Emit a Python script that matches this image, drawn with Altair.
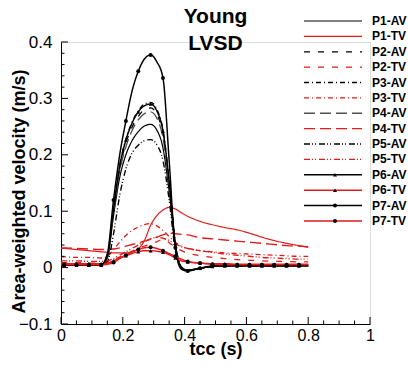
import altair as alt
import pandas as pd

# time grid (s)
T = [0.00, 0.01, 0.05, 0.09, 0.13, 0.15, 0.17, 0.19, 0.21, 0.23, 0.25, 0.27, 0.29, 0.31,
     0.33, 0.35, 0.37, 0.39, 0.41, 0.45, 0.49, 0.53, 0.57, 0.61, 0.65, 0.69, 0.73, 0.77, 0.80]

P1_AV = [0.004, 0.004, 0.004, 0.004, 0.004, 0.017, 0.092, 0.160, 0.200, 0.225, 0.241, 0.251, 0.254, 0.244,
         0.212, 0.135, 0.037, 0.000, -0.004, -0.001, 0.002, 0.003, 0.003, 0.003, 0.003, 0.003, 0.003, 0.003, 0.003]
P1_TV = [0.034, 0.034, 0.032, 0.030, 0.028, 0.027, 0.026, 0.026, 0.026, 0.028, 0.033, 0.048, 0.075, 0.092,
         0.102, 0.107, 0.104, 0.097, 0.091, 0.082, 0.076, 0.071, 0.067, 0.061, 0.054, 0.048, 0.043, 0.039, 0.036]
P2_AV = [0.004, 0.004, 0.004, 0.004, 0.004, 0.019, 0.100, 0.176, 0.220, 0.249, 0.268, 0.280, 0.283, 0.272,
         0.236, 0.150, 0.042, 0.000, -0.005, -0.001, 0.002, 0.003, 0.003, 0.003, 0.003, 0.003, 0.003, 0.003, 0.003]
P2_TV = [0.009, 0.009, 0.009, 0.008, 0.008, 0.010, 0.014, 0.019, 0.024, 0.029, 0.034, 0.038, 0.042, 0.046,
         0.050, 0.044, 0.036, 0.030, 0.026, 0.021, 0.018, 0.016, 0.014, 0.013, 0.012, 0.011, 0.011, 0.010, 0.010]
P3_AV = [0.004, 0.004, 0.004, 0.004, 0.004, 0.020, 0.104, 0.182, 0.228, 0.258, 0.278, 0.290, 0.293, 0.281,
         0.245, 0.155, 0.045, 0.001, -0.004, -0.001, 0.002, 0.003, 0.003, 0.003, 0.003, 0.003, 0.003, 0.003, 0.003]
P3_TV = [0.019, 0.019, 0.018, 0.018, 0.017, 0.020, 0.032, 0.045, 0.057, 0.066, 0.072, 0.076, 0.078, 0.074,
         0.066, 0.055, 0.045, 0.038, 0.034, 0.030, 0.028, 0.026, 0.025, 0.024, 0.023, 0.022, 0.021, 0.020, 0.020]
P4_AV = [0.004, 0.004, 0.004, 0.004, 0.004, 0.018, 0.098, 0.171, 0.214, 0.243, 0.262, 0.273, 0.276, 0.265,
         0.230, 0.146, 0.040, 0.000, -0.005, -0.001, 0.002, 0.003, 0.003, 0.003, 0.003, 0.003, 0.003, 0.003, 0.003]
P4_TV = [0.035, 0.035, 0.034, 0.033, 0.032, 0.032, 0.033, 0.035, 0.038, 0.041, 0.044, 0.047, 0.050, 0.054,
         0.058, 0.061, 0.060, 0.059, 0.058, 0.053, 0.051, 0.049, 0.047, 0.045, 0.043, 0.041, 0.039, 0.038, 0.037]
P5_AV = [0.004, 0.004, 0.004, 0.004, 0.004, 0.010, 0.060, 0.128, 0.175, 0.203, 0.217, 0.225, 0.227, 0.218,
         0.190, 0.120, 0.030, -0.002, -0.005, -0.001, 0.002, 0.003, 0.003, 0.003, 0.003, 0.003, 0.003, 0.003, 0.003]
P5_TV = [0.012, 0.012, 0.012, 0.011, 0.011, 0.012, 0.016, 0.022, 0.028, 0.034, 0.040, 0.046, 0.051, 0.054,
         0.052, 0.048, 0.042, 0.037, 0.034, 0.030, 0.027, 0.024, 0.022, 0.020, 0.018, 0.017, 0.016, 0.015, 0.015]
P6_AV = [0.004, 0.004, 0.004, 0.004, 0.004, 0.020, 0.103, 0.180, 0.226, 0.256, 0.276, 0.287, 0.290, 0.278,
         0.242, 0.153, 0.043, 0.000, -0.005, -0.001, 0.002, 0.003, 0.003, 0.003, 0.003, 0.003, 0.003, 0.003, 0.003]
P6_TV = [0.007, 0.007, 0.007, 0.007, 0.007, 0.008, 0.012, 0.017, 0.021, 0.025, 0.028, 0.030, 0.030, 0.029,
         0.027, 0.023, 0.017, 0.012, 0.010, 0.008, 0.007, 0.007, 0.006, 0.006, 0.006, 0.006, 0.006, 0.006, 0.006]
P7_AV = [0.005, 0.005, 0.005, 0.005, 0.005, 0.025, 0.120, 0.200, 0.260, 0.313, 0.348, 0.370, 0.377, 0.365,
         0.336, 0.190, 0.035, -0.003, -0.006, -0.001, 0.003, 0.004, 0.004, 0.004, 0.004, 0.004, 0.004, 0.004, 0.004]
P7_TV = [0.005, 0.005, 0.005, 0.005, 0.005, 0.006, 0.009, 0.016, 0.022, 0.028, 0.032, 0.035, 0.036, 0.034,
         0.030, 0.025, 0.020, 0.015, 0.011, 0.008, 0.006, 0.005, 0.005, 0.005, 0.005, 0.005, 0.005, 0.005, 0.005]

SERIES = ["P1-AV", "P1-TV", "P2-AV", "P2-TV", "P3-AV", "P3-TV", "P4-AV", "P4-TV",
          "P5-AV", "P5-TV", "P6-AV", "P6-TV", "P7-AV", "P7-TV"]
VALUES = [P1_AV, P1_TV, P2_AV, P2_TV, P3_AV, P3_TV, P4_AV, P4_TV,
          P5_AV, P5_TV, P6_AV, P6_TV, P7_AV, P7_TV]

X_TICKS = [0, 0.2, 0.4, 0.6, 0.8, 1]
Y_TICKS = [-0.1, 0, 0.1, 0.2, 0.3, 0.4]
X_MINOR = [0.05, 0.1, 0.15, 0.25, 0.3, 0.35, 0.45, 0.5, 0.55, 0.65, 0.7, 0.75, 0.85, 0.9, 0.95]
Y_MINOR = [-0.08, -0.06, -0.04, -0.02, 0.02, 0.04, 0.06, 0.08, 0.12, 0.14, 0.16, 0.18,
           0.22, 0.24, 0.26, 0.28, 0.32, 0.34, 0.36, 0.38]

RED = "#e01b1b"
BLK = "#000000"
GRY = "#505050"
COLORS = [BLK, RED, BLK, RED, BLK, RED, GRY, RED, BLK, RED, BLK, RED, BLK, RED]
SOLID = [1, 0]
DASHES = [SOLID, SOLID, [6, 8], [6, 8], [5, 3, 1, 3], [5, 3, 1, 3], [11, 5], [11, 5],
          [6, 2, 1, 2, 1, 3], [6, 2, 1, 2, 1, 3], SOLID, SOLID, SOLID, SOLID]
WIDTHS = [1.2, 1.5, 1.2, 1.2, 1.2, 1.2, 1.8, 1.5, 1.2, 1.2, 1.4, 1.4, 1.4, 1.4]
NONE = "M0,0"
MARKERS = [NONE] * 10 + ["triangle-up", "triangle-up", "circle", "circle"]
MK_DOMAIN = ["mk " + s for s in SERIES]

rows = []
for s, vals in zip(SERIES, VALUES):
    for t, v in zip(T, vals):
        k = (t - 0.01) / 0.04
        rows.append({"series": s, "mkser": "mk " + s, "t": t, "v": v,
                     "mk": bool(abs(k - round(k)) < 1e-6 and t < 0.78)})
df = pd.DataFrame(rows)

FONT = "Liberation Sans"
xs = alt.Scale(domain=[0, 1], nice=False, zero=False)
ys = alt.Scale(domain=[-0.1, 0.4], nice=False, zero=False)
cs = alt.Scale(domain=SERIES, range=COLORS)
ds = alt.Scale(domain=SERIES, range=DASHES)

X_AXIS = alt.Axis(
    orient="bottom", values=X_TICKS, format="~g", ticks=False, grid=False,
    domainColor="black", domainWidth=1, labelFont=FONT, labelFontSize=16, labelColor="black",
    labelPadding=3, labelFlush=False, title="tcc (s)", titleFont=FONT, titleFontSize=18,
    titleFontWeight="bold", titleColor="black", titleBaseline="alphabetic", titleY=30)
Y_AXIS = alt.Axis(
    orient="left", values=Y_TICKS, format="~g", ticks=False, grid=False,
    domainColor="black", domainWidth=1, labelFont=FONT, labelFontSize=17, labelColor="black",
    labelPadding=9, labelFlush=False, title="Area-weighted velocity (m/s)", titleFont=FONT,
    titleFontSize=18, titleFontWeight="bold", titleColor="black", titleAngle=270,
    titleBaseline="bottom", titleAlign="center", titleX=-33, titleY=149)

LEG_COMMON = dict(title=None, orient="none", legendX=242, legendY=-27, direction="vertical",
                  clipHeight=12, rowPadding=3.38, padding=0)
LEG = alt.Legend(labelFont=FONT, labelFontSize=12, labelFontWeight="bold", labelColor="black",
                 labelOffset=9, symbolType="stroke", symbolSize=3364, symbolStrokeWidth=1.3,
                 labelBaseline="middle", symbolOffset=0, **LEG_COMMON)
MK_LEG = alt.Legend(labelExpr="''", symbolSize=16, symbolOffset=27, symbolFillColor="black",
                    symbolStrokeColor="black", symbolStrokeWidth=0, **LEG_COMMON)

base = alt.Chart(df)

lines = base.mark_line(interpolate="monotone").encode(
    x=alt.X("t:Q", scale=xs, axis=X_AXIS),
    y=alt.Y("v:Q", scale=ys, axis=Y_AXIS),
    color=alt.Color("series:N", scale=cs, legend=LEG),
    strokeDash=alt.StrokeDash("series:N", scale=ds, legend=LEG),
    strokeWidth=alt.StrokeWidth("series:N", scale=alt.Scale(domain=SERIES, range=WIDTHS), legend=None),
)

markers = base.transform_filter("datum.mk").mark_point(
    filled=True, color="black", size=16, opacity=1
).encode(
    x=alt.X("t:Q", scale=xs, axis=X_AXIS),
    y=alt.Y("v:Q", scale=ys, axis=Y_AXIS),
    shape=alt.Shape("mkser:N", scale=alt.Scale(domain=MK_DOMAIN, range=MARKERS), legend=MK_LEG),
)

# inward axis ticks, placed through the chart's own scales
xt_major = alt.Chart(pd.DataFrame({"t": X_TICKS})).mark_rule(color="black", strokeWidth=1).encode(
    x=alt.X("t:Q", scale=xs, axis=X_AXIS), y=alt.value(282), y2=alt.value(275))
xt_minor = alt.Chart(pd.DataFrame({"t": X_MINOR})).mark_rule(color="black", strokeWidth=1).encode(
    x=alt.X("t:Q", scale=xs, axis=X_AXIS), y=alt.value(282), y2=alt.value(278.5))
yt_major = alt.Chart(pd.DataFrame({"v": Y_TICKS})).mark_rule(color="black", strokeWidth=1).encode(
    y=alt.Y("v:Q", scale=ys, axis=Y_AXIS), x=alt.value(0), x2=alt.value(7))
yt_minor = alt.Chart(pd.DataFrame({"v": Y_MINOR})).mark_rule(color="black", strokeWidth=1).encode(
    y=alt.Y("v:Q", scale=ys, axis=Y_AXIS), x=alt.value(0), x2=alt.value(3.5))

chart = alt.layer(lines, markers, xt_major, xt_minor, yt_major, yt_minor).properties(
    width=309, height=282,
    autosize=alt.AutoSizeParams(type="none"),
    padding={"left": 61, "top": 42, "right": 38, "bottom": 44},
    title=alt.TitleParams(text=["Young", "LVSD"], font=FONT, fontSize=21, fontWeight="bold",
                          color="black", anchor="middle", frame="group", lineHeight=27, dy=43),
).configure_view(stroke=None).configure(font=FONT, background="white")

chart.save("out.html", embed_options={"renderer": "svg", "actions": False})
